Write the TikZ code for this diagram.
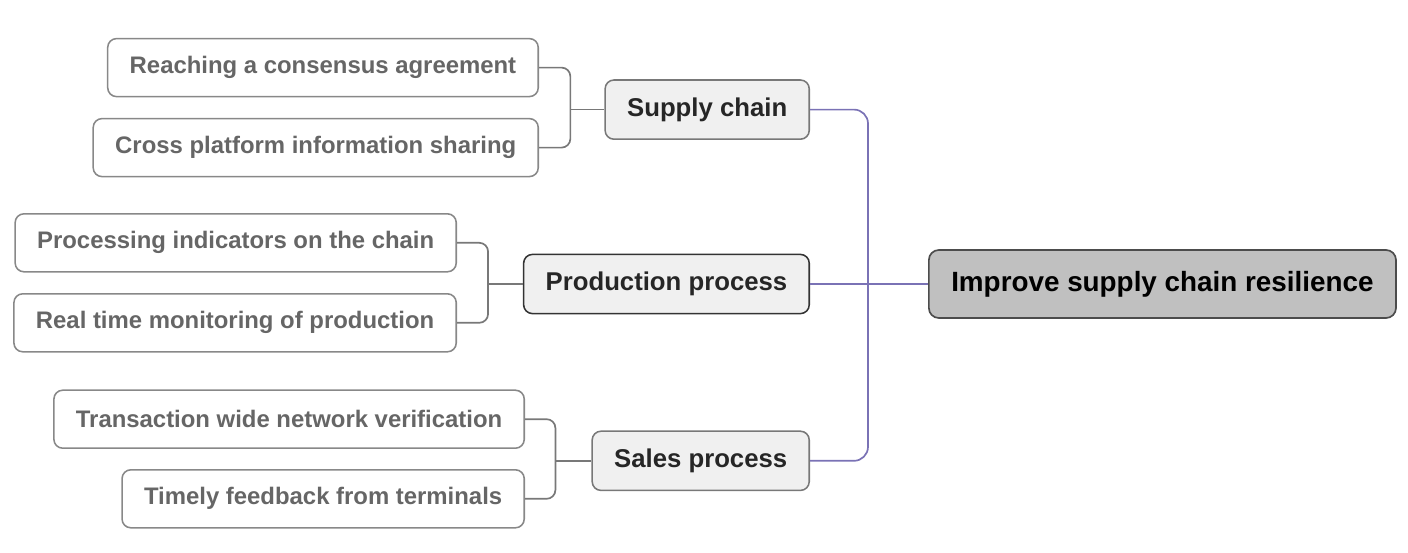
\documentclass[tikz,border=0pt]{standalone}
\usepackage{fontspec}
\setmainfont{Liberation Sans}
\definecolor{hubpurple}{RGB}{122, 114, 181}
\definecolor{linegray}{RGB}{120, 120, 120}
\definecolor{leafgray}{RGB}{102, 102, 102}
\definecolor{boxgray}{RGB}{136, 136, 136}
\definecolor{branchbg}{RGB}{240, 240, 240}
\definecolor{rootbg}{RGB}{192, 192, 192}
\usetikzlibrary{positioning}

\begin{document}
\begin{tikzpicture}[
  rootbox/.style={draw=black!70, fill=rootbg, rounded corners=0.25cm, line width=1.2pt,
    inner xsep=0.56cm, minimum height=1.7cm, font=\fontsize{19.8}{24}\selectfont\bfseries, text=black},
  branchbox/.style={draw=linegray, fill=branchbg, rounded corners=0.22cm, line width=1.1pt,
    inner xsep=0.55cm, minimum height=1.48cm, font=\fontsize{18.3}{22}\selectfont\bfseries, text=black!85},
  leafbox/.style={draw=boxgray, fill=white, rounded corners=0.22cm, line width=1.1pt,
    inner xsep=0.55cm, minimum height=1.45cm, font=\fontsize{17}{20}\selectfont\bfseries, text=leafgray},
  hubline/.style={draw=hubpurple, line width=1.2pt, rounded corners=0.35cm},
  leafline/.style={draw=linegray, line width=1.2pt, rounded corners=0.22cm}
]
  \useasboundingbox (0,0) rectangle (35.2,-13.8);

  % Root
  \node[rootbox, anchor=west] (root) at (23.2, -7.1) {Improve supply chain resilience};

  % Branches
  \node[branchbox, anchor=east] (supply) at (20.25, -2.74) {Supply chain};
  \node[branchbox, anchor=east, draw=black!80] (prod) at (20.25, -7.1) {Production process};
  \node[branchbox, anchor=east] (sales) at (20.25, -11.52) {Sales process};

  % Leaves
  \node[leafbox, anchor=east] (sup1) at (13.475, -1.69) {Reaching a consensus agreement};
  \node[leafbox, anchor=east] (sup2) at (13.475, -3.69) {Cross platform information sharing};
  \node[leafbox, anchor=east] (pro1) at (11.425, -6.07) {Processing indicators on the chain};
  \node[leafbox, anchor=east] (pro2) at (11.425, -8.07) {Real time monitoring of production};
  \node[leafbox, anchor=east] (sal1) at (13.125, -10.48) {Transaction wide network verification};
  \node[leafbox, anchor=east] (sal2) at (13.125, -12.47) {Timely feedback from terminals};

  % Connectors
  \coordinate (hub) at ([xshift=-1.5cm]root.west);
  \draw[hubline] (supply.east) -| (hub) |- (sales.east);
  \draw[hubline] (prod.east) -- (root.west);

  \coordinate (supj) at ([xshift=-0.85cm]supply.west);
  \coordinate (proj) at ([xshift=-0.87cm]prod.west);
  \coordinate (salj) at ([xshift=-0.9cm]sales.west);
  \draw[leafline] (sup1.east) -| (supj) |- (sup2.east);
  \draw[leafline] (supj) -- (supply.west);
  \draw[leafline] (pro1.east) -| (proj) |- (pro2.east);
  \draw[leafline] (proj) -- (prod.west);
  \draw[leafline] (sal1.east) -| (salj) |- (sal2.east);
  \draw[leafline] (salj) -- (sales.west);
\end{tikzpicture}
\end{document}
